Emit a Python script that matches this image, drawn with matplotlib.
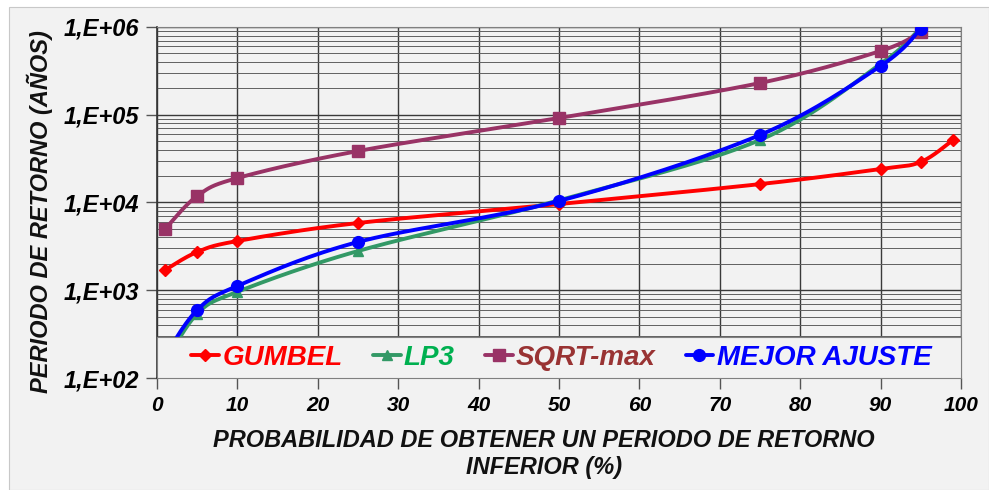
import numpy as np
import matplotlib
matplotlib.use("Agg")
import matplotlib.pyplot as plt
from matplotlib.patches import Rectangle
from matplotlib.ticker import LogLocator, FuncFormatter, NullFormatter

# data (x = probability %, y = return period, years)
gumbel_x = [1, 5, 10, 25, 50, 75, 90, 95, 99]
gumbel_y = [1700, 2730, 3640, 5840, 9600, 16200, 24100, 29000, 51500]

lp3_x = [1, 5, 10, 25, 50, 75, 90, 95]
lp3_y = [150, 540, 960, 2800, 10600, 51600, 380000, 980000]

sqrt_x = [1, 5, 10, 25, 50, 75, 90, 95]
sqrt_y = [4990, 11860, 19000, 38600, 91800, 230000, 533000, 877000]

mejor_x = [1, 5, 10, 25, 50, 75, 90, 95]
mejor_y = [180, 596, 1120, 3550, 10400, 58800, 360000, 950000]

labels = ["GUMBEL", "LP3", "SQRT-max", "MEJOR AJUSTE"]

FONT = "Liberation Sans"


def smooth(xs, ys, n=30):
    # Catmull-Rom style smoothing in display-like space (linear x, log y)
    sx, sy = 8.04, 87.75
    P = np.column_stack([np.asarray(xs, float) * sx, np.log10(ys) * sy])
    Q = np.vstack([P[0], P, P[-1]])
    out = [P[0]]
    idx = [0]
    for i in range(len(P) - 1):
        p0, p1, p2, p3 = Q[i], Q[i + 1], Q[i + 2], Q[i + 3]
        b1 = p1 + (p2 - p0) / 6.0
        b2 = p2 - (p3 - p1) / 6.0
        t = np.linspace(0, 1, n + 1)[1:, None]
        seg = ((1 - t) ** 3) * p1 + 3 * ((1 - t) ** 2) * t * b1 + 3 * (1 - t) * t ** 2 * b2 + t ** 3 * p2
        out.extend(seg)
        idx.append(len(out) - 1)
    out = np.array(out)
    return out[:, 0] / sx, 10 ** (out[:, 1] / sy), idx


fig = plt.figure(figsize=(9.89, 4.90), dpi=100, facecolor="white")
fig.patches.append(Rectangle((9 / 989, 0), 1 - 9 / 989, 1 - 7 / 490, transform=fig.transFigure,
                             facecolor="#f2f2f2", edgecolor="#c8c8c8", lw=0.8, zorder=-5))
ax = fig.add_axes([157 / 989, 1 - 378 / 490, (961 - 157) / 989, (378 - 27) / 490])
ax.set_zorder(2)
ax.set_facecolor("#f2f2f2")

series = [
    (gumbel_x, gumbel_y, "#ff0000", "D", 6.5, "#ff0000"),
    (lp3_x, lp3_y, "#339966", "^", 7.5, "#00b050"),
    (sqrt_x, sqrt_y, "#993366", "s", 8.5, "#993333"),
    (mejor_x, mejor_y, "#0000ff", "o", 8.5, "#0000ff"),
]

handles = []
for (xs, ys, col, mk, ms, tc), lab in zip(series, labels):
    sxv, syv, idx = smooth(xs, ys)
    h, = ax.plot(sxv, syv, color=col, lw=2.8, marker=mk, markersize=ms,
                 markevery=idx, markerfacecolor=col, markeredgecolor=col,
                 label=lab, zorder=3, solid_capstyle="round")
    handles.append(h)

ax.set_yscale("log")
ax.set_xlim(0, 100)
ax.set_ylim(1e2, 1e6)
ax.set_xticks(np.arange(0, 101, 10))
ax.yaxis.set_major_locator(LogLocator(base=10, numticks=10))
ax.yaxis.set_minor_locator(LogLocator(base=10, subs=np.arange(2, 10), numticks=100))
ax.yaxis.set_minor_formatter(NullFormatter())
ax.yaxis.set_major_formatter(FuncFormatter(lambda v, p: "1,E+%02d" % int(round(np.log10(v)))))

ax.grid(True, which="major", axis="both", color="#3a3a3a", lw=1.0, zorder=1)
ax.grid(True, which="minor", axis="y", color="#606060", lw=0.7, zorder=1)

for sp in ["left", "bottom"]:
    ax.spines[sp].set_color("#333333")
    ax.spines[sp].set_linewidth(1.2)
for sp in ["top", "right"]:
    ax.spines[sp].set_color("#808080")
    ax.spines[sp].set_linewidth(0.8)

ax.tick_params(axis="both", which="major", direction="out", length=8, width=1, color="#555555")
ax.tick_params(axis="y", which="minor", length=0)
ax.tick_params(axis="x", pad=5)
ax.tick_params(axis="y", pad=5)
for t in ax.get_xticklabels():
    t.set_fontfamily(FONT)
    t.set_fontweight("bold")
    t.set_fontstyle("italic")
    t.set_fontsize(15)
for t in ax.get_yticklabels():
    t.set_fontfamily(FONT)
    t.set_fontweight("bold")
    t.set_fontstyle("italic")
    t.set_fontsize(17)

fig.text(40 / 989, 1 - 212 / 490, "PERIODO DE RETORNO (AÑOS)", rotation=90, ha="center", va="center",
         fontfamily=FONT, fontweight="bold", fontstyle="italic", fontsize=17, color="#111111")
fig.text(544 / 989, 1 - 454 / 490, "PROBABILIDAD DE OBTENER UN PERIODO DE RETORNO\nINFERIOR (%)",
         ha="center", va="center", fontfamily=FONT, fontweight="bold", fontstyle="italic",
         fontsize=17, color="#111111", linespacing=1.2)

# legend box across the bottom of the plot area
ax.add_patch(Rectangle((0, 0), 1, 41 / 351, transform=ax.transAxes, facecolor="#f2f2f2",
                       edgecolor="#808080", lw=0.8, zorder=9, clip_on=False))
leg = ax.legend(handles=handles, loc="center", bbox_to_anchor=(0.503, 20.5 / 351),
                ncol=4, frameon=False, handlelength=1.0, handletextpad=0.12,
                columnspacing=1.08, borderpad=0.0, borderaxespad=0,
                prop={"family": FONT, "weight": "bold", "style": "italic", "size": 20})
leg.set_zorder(10)
for txt, s in zip(leg.get_texts(), series):
    txt.set_color(s[5])

fig.savefig("out.png", dpi=100, facecolor=fig.get_facecolor())
